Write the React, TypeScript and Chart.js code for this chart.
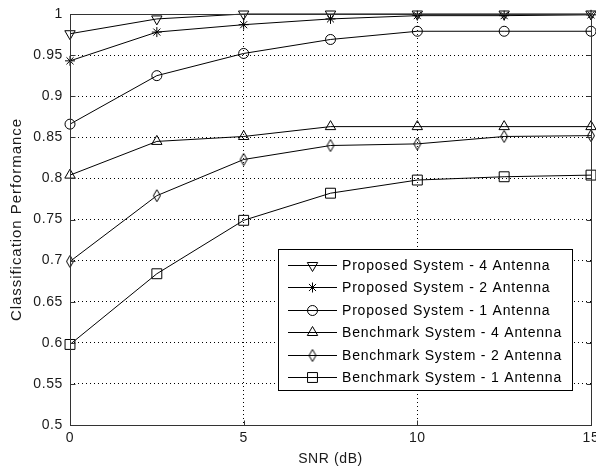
import React, { useEffect, useRef } from 'react';
import { Chart, registerables } from 'chart.js';

Chart.register(...registerables);

// ---- data ----
const snrDb = [0, 2.5, 5, 7.5, 10, 12.5, 15];
const proposed4 = [0.976, 0.994, 1.0, 1.0, 1.0, 1.0, 1.0];
const proposed2 = [0.943, 0.978, 0.987, 0.994, 0.998, 0.998, 0.999];
const proposed1 = [0.866, 0.925, 0.952, 0.969, 0.979, 0.979, 0.979];
const benchmark4 = [0.804, 0.845, 0.851, 0.863, 0.863, 0.863, 0.863];
const benchmark2 = [0.699, 0.779, 0.823, 0.840, 0.842, 0.851, 0.852];
const benchmark1 = [0.598, 0.684, 0.749, 0.782, 0.798, 0.802, 0.804];

const seriesLabels = [
  'Proposed System - 4 Antenna',
  'Proposed System - 2 Antenna',
  'Proposed System - 1 Antenna',
  'Benchmark System - 4 Antenna',
  'Benchmark System - 2 Antenna',
  'Benchmark System - 1 Antenna',
];
const xTitle = 'SNR (dB)';
const yTitle = 'Classification Performance';
const xMin = 0, xMax = 15, xStep = 5;
const yMin = 0.5, yMax = 1, yStep = 0.05;

const FONT = '"Liberation Sans", Arial, sans-serif';
const INK = '#1a1a1a';

export default function App() {
  const ref = useRef<HTMLCanvasElement>(null);

  useEffect(() => {
    document.body.style.margin = '0';
    const canvas = ref.current!;

    // tall thin diamond marker (MATLAB style)
    const diamond = document.createElement('canvas');
    diamond.width = 10;
    diamond.height = 14;
    const dctx = diamond.getContext('2d')!;
    dctx.strokeStyle = '#000';
    dctx.lineWidth = 1;
    dctx.beginPath();
    dctx.moveTo(5, 1);
    dctx.lineTo(8.5, 7);
    dctx.lineTo(5, 13);
    dctx.lineTo(1.5, 7);
    dctx.closePath();
    dctx.stroke();

    const values = [proposed4, proposed2, proposed1, benchmark4, benchmark2, benchmark1];
    const markers: any[] = [
      { pointStyle: 'triangle', radius: 6, rotation: 180 },
      { pointStyle: 'star', radius: 5, rotation: 0 },
      { pointStyle: 'circle', radius: 5, rotation: 0 },
      { pointStyle: 'triangle', radius: 6, rotation: 0 },
      { pointStyle: diamond, radius: 6, rotation: 0 },
      { pointStyle: 'rect', radius: 7, rotation: 0 },
    ];

    const datasets = values.map((vals, i) => ({
      label: seriesLabels[i],
      data: snrDb.map((x, j) => ({ x, y: vals[j] })),
      borderColor: '#000',
      borderWidth: 1,
      backgroundColor: 'rgba(0,0,0,0)',
      pointBackgroundColor: 'rgba(0,0,0,0)',
      pointBorderColor: '#000',
      pointBorderWidth: 1,
      pointStyle: markers[i].pointStyle,
      pointRadius: markers[i].radius,
      pointRotation: markers[i].rotation,
      pointHoverRadius: markers[i].radius,
      tension: 0,
      fill: false,
      clip: false as any,
    }));

    const spacing = {
      id: 'spacing',
      beforeUpdate(c: any) { c.ctx.letterSpacing = '0.6px'; },
      beforeDraw(c: any) {
        c.ctx.letterSpacing = '0.6px';
        const s = c.scales.y;
        if (s && !s.__wrappedTitle) {
          const orig = s.drawTitle.bind(s);
          s.drawTitle = function () {
            const ctx = c.ctx;
            const prev = ctx.letterSpacing;
            ctx.letterSpacing = '0.95px';
            orig();
            ctx.letterSpacing = prev;
          };
          s.__wrappedTitle = true;
        }
      },
    };

    const frame = {
      id: 'frame',
      afterDatasetsDraw(c: any) {
        const { ctx, chartArea } = c;
        const L = Math.round(chartArea.left) + 0.5;
        const R = Math.round(chartArea.right) + 0.5;
        const T = Math.round(chartArea.top) + 0.5;
        const B = Math.round(chartArea.bottom) + 0.5;
        ctx.save();
        ctx.strokeStyle = '#333';
        ctx.lineWidth = 1;
        ctx.setLineDash([]);
        ctx.strokeRect(L, T, R - L, B - T);
        const tl = 5;
        ctx.beginPath();
        c.scales.y.ticks.forEach((t: any) => {
          const py = Math.round(c.scales.y.getPixelForValue(t.value)) + 0.5;
          ctx.moveTo(L, py); ctx.lineTo(L + tl, py);
          ctx.moveTo(R, py); ctx.lineTo(R - tl, py);
        });
        c.scales.x.ticks.forEach((t: any) => {
          const px = Math.round(c.scales.x.getPixelForValue(t.value)) + 0.5;
          ctx.moveTo(px, B); ctx.lineTo(px, B - tl);
          ctx.moveTo(px, T); ctx.lineTo(px, T + tl);
        });
        ctx.stroke();
        ctx.restore();
      },
    };

    const legendBox = {
      id: 'legendBox',
      afterDraw(c: any) {
        const { ctx, chartArea } = c;
        const right = Math.round(chartArea.right) - 19;
        const bottom = Math.round(chartArea.bottom) - 35;
        const w = 294, h = 141;
        const left = right - w, top = bottom - h;
        ctx.save();
        ctx.letterSpacing = '0.8px';
        ctx.fillStyle = '#fff';
        ctx.fillRect(left, top, w, h);
        ctx.strokeStyle = '#000';
        ctx.lineWidth = 1;
        ctx.setLineDash([]);
        ctx.strokeRect(left + 0.5, top + 0.5, w, h);
        ctx.font = `14px ${FONT}`;
        ctx.textBaseline = 'middle';
        ctx.textAlign = 'left';
        c.data.datasets.forEach((ds: any, i: number) => {
          const cy = Math.round(top + 15.5 + i * 22.5) + 0.5;
          ctx.beginPath();
          ctx.strokeStyle = ds.borderColor;
          ctx.moveTo(left + 10, cy);
          ctx.lineTo(left + 59, cy);
          ctx.stroke();
          const pt = c.getDatasetMeta(i).data[0];
          if (pt) {
            const ox = pt.x, oy = pt.y;
            pt.x = left + 34.5; pt.y = cy;
            pt.draw(ctx);
            pt.x = ox; pt.y = oy;
          }
          ctx.fillStyle = '#000';
          ctx.fillText(ds.label, left + 64, cy + 0.5);
        });
        ctx.restore();
      },
    };

    const chart = new Chart(canvas, {
      type: 'line',
      data: { datasets: datasets as any },
      options: {
        animation: false,
        responsive: false,
        events: [],
        layout: { autoPadding: false, padding: { top: 14, right: 5, left: 0, bottom: 0 } },
        plugins: {
          legend: { display: false },
          tooltip: { enabled: false },
        },
        scales: {
          x: {
            type: 'linear',
            min: xMin,
            max: xMax,
            ticks: {
              stepSize: xStep,
              color: INK,
              font: { family: FONT, size: 14 },
              padding: 5,
              maxRotation: 0,
              callback: (v: any) => String(Math.round(Number(v) * 100) / 100),
            },
            grid: { color: '#000', drawTicks: false, lineWidth: 1 },
            border: { display: false, dash: [1, 3] },
            title: {
              display: true,
              text: xTitle,
              color: INK,
              font: { family: FONT, size: 14 },
              padding: { top: 0, bottom: 6 },
            },
            afterFit(scale: any) {
              scale.height = 49;
              scale.paddingLeft = 0;
              scale.paddingRight = 0;
            },
          },
          y: {
            type: 'linear',
            min: yMin,
            max: yMax,
            ticks: {
              stepSize: yStep,
              color: INK,
              font: { family: FONT, size: 14 },
              padding: 7,
              callback: (v: any) => String(Math.round(Number(v) * 100) / 100),
            },
            grid: { color: '#000', drawTicks: false, lineWidth: 1 },
            border: { display: false, dash: [1, 3] },
            title: {
              display: true,
              text: yTitle,
              color: INK,
              font: { family: FONT, size: 15 },
              padding: { top: 8, bottom: 0 },
            },
            afterFit(scale: any) {
              scale.width = 70;
              scale.paddingTop = 0;
              scale.paddingBottom = 0;
            },
          },
        },
      },
      plugins: [spacing, frame, legendBox],
    });

    return () => chart.destroy();
  }, []);

  return <canvas ref={ref} width={596} height={474} style={{ display: 'block' }} />;
}
